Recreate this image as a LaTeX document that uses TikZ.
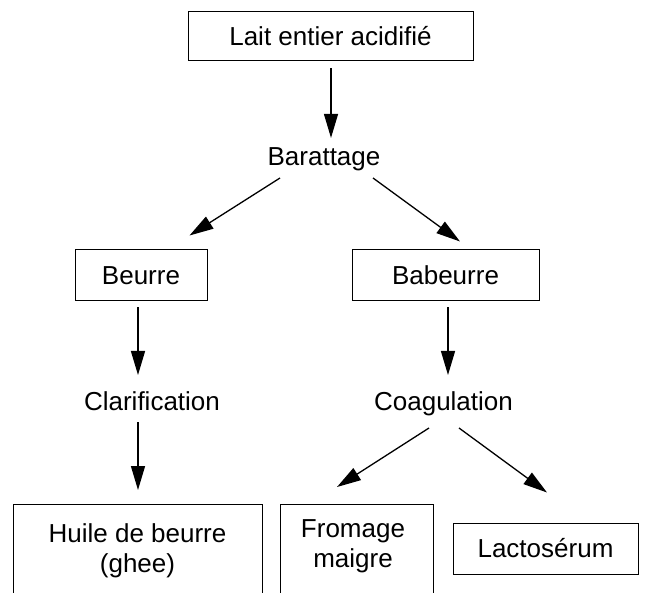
\documentclass[tikz,border=0pt]{standalone}
\usepackage{fontspec}
\setmainfont{Liberation Sans}
\usetikzlibrary{arrows.meta,calc}
\begin{document}
\begin{tikzpicture}[x=1pt,y=-1pt,
  every node/.style={font=\fontsize{26}{30}\selectfont, inner sep=0pt},
  boxnode/.style={draw, line width=1pt, text height=18.6pt, text depth=0pt},
  openbox/.style={draw, line width=1pt, anchor=north},
  plain/.style={anchor=base},
  arr/.style={line width=1.3pt, -{Triangle[length=24pt,width=14pt]}}]
\useasboundingbox (0,0) rectangle (645,593);
\clip (0,0) rectangle (645,593);
% boxes and labels
\node[boxnode, minimum width=285pt, minimum height=49pt] (lait) at (330.5,36.5) {Lait entier acidifié};
\node[plain] (bar) at (324,166) {Barattage};
\node[boxnode, minimum width=132pt, minimum height=51pt] (beurre) at (141,275.5) {Beurre};
\node[boxnode, minimum width=187pt, minimum height=51pt] (babeurre) at (445.5,275.5) {Babeurre};
\node[plain] (clar) at (152,410) {Clarification};
\node[plain] (coag) at (443.5,410) {Coagulation};
\node[openbox, minimum width=249pt, minimum height=130pt] (huilebox) at (137.5,504) {};
\node[anchor=north, align=center] (huile) at (137.5,523) {Huile de beurre\\(ghee)};
\node[openbox, minimum width=153pt, minimum height=130pt] (fromagebox) at (356.5,504) {};
\node[anchor=north, align=center] (fromage) at (353,519.5) {Fromage\\maigre};
\node[boxnode, minimum width=185pt, minimum height=51pt] (lacto) at (545.5,548.5) {Lactosérum};
% connectors
\draw[arr] ($(lait.south)+(0.5,7)$) -- ($(lait.south |- bar.north)+(0.5,-10)$);
\draw[arr] ($(bar.base)+(-44,12)$) -- ($(beurre.north east)+(-18,-14)$);
\draw[arr] ($(bar.base)+(49,12)$) -- ($(babeurre.north)+(14.5,-8)$);
\draw[arr] ($(beurre.south)+(-3,6)$) -- ($(clar.base)+(-14,-35)$);
\draw[arr] ($(clar.base)+(-14,12)$) -- ($(huilebox.north)+(0.5,-14)$);
\draw[arr] ($(babeurre.south)+(2.5,6)$) -- ($(coag.base)+(4.5,-35)$);
\draw[arr] ($(coag.base)+(-14.5,18)$) -- ($(fromagebox.north)+(-19.5,-17)$);
\draw[arr] ($(coag.base)+(15.5,18)$) -- ($(lacto.north)+(1.5,-30)$);
\end{tikzpicture}
\end{document}
